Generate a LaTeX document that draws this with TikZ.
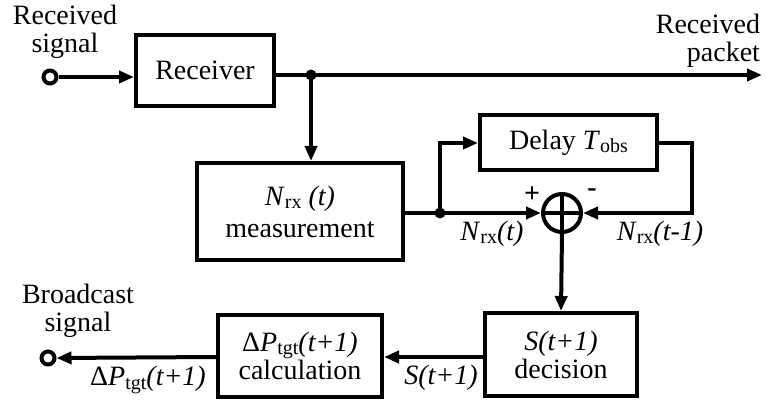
\documentclass[tikz,border=0pt]{standalone}
\usepackage{fontspec}
\setmainfont{Liberation Serif}
\usetikzlibrary{arrows.meta}
\newcommand{\lsub}[1]{\raisebox{-0.25ex}{\fontsize{20}{21}\selectfont #1}}
\begin{document}
\begin{tikzpicture}[x=1pt,y=-1pt,
  font=\fontsize{28}{28}\selectfont,
  line width=4pt,
  arr/.style={-{Triangle[length=15pt,width=12pt]}},
  blk/.style={draw,rectangle,inner sep=0pt,align=center},
  lbl/.style={inner sep=0pt,align=center},
  term/.style={draw,circle,fill=white,minimum size=13pt,inner sep=0pt,line width=4pt},
  dot/.style={circle,fill,minimum size=11pt,inner sep=0pt}]
\useasboundingbox (0,0) rectangle (766,403);
% blocks
\node[blk,minimum width=138pt,minimum height=71pt] (rec) at (205,70.5) {Receiver};
\node[blk,minimum width=206pt,minimum height=97pt] (meas) at (300,211.5)
  {\textit{N}\lsub{rx} \textit{(t)}\\[4pt]measurement};
\node[blk,minimum width=177pt,minimum height=55pt] (delay) at (568.5,143)
  {Delay \textit{T}\lsub{obs}};
\node[blk,minimum width=152pt,minimum height=83pt] (dec) at (561,354.5)
  {\textit{S(t+1)}\\decision};
\node[blk,minimum width=164pt,minimum height=82pt] (calc) at (300,356)
  {Δ\textit{P}\lsub{tgt}\textit{(t+1)}\\calculation};
% adder
\node[draw,circle,minimum size=38pt,inner sep=0pt] (add) at (562,213) {};
\draw (add.north) -- (add.south) (add.west) -- (add.east);
% terminals
\node[term] (in) at (50,77) {};
\node[term] (out) at (48,358) {};
% junctions and free ends
\coordinate (j1) at (311,75);
\coordinate (j2) at (440,213);
\coordinate (pk) at (762,73);
\coordinate (dr) at (692,0);
% connectors
\draw[arr] (in.east) -- (in.east -| rec.west);
\draw[arr] (rec.east |- j1) -- (pk |- j1);
\node[dot] at (j1) {};
\draw[arr] (j1) -- (j1 |- meas.north);
\draw[arr] (meas.east |- j2) -- (add.west);
\node[dot] at (j2) {};
\draw[arr] (j2) |- (delay.west);
\draw[arr] (delay.east) -| (dr |- add) -- (add.east);
\draw[arr] (add.south) -- (dec.north);
\coordinate (b) at (0,357);
\draw[arr] (dec.west |- b) -- (calc.east |- b);
\draw[arr] (calc.west |- b) -- (out.east);
% labels
\node[lbl] (t1) at (65,32) {Received\\signal};
\node[lbl,align=right,anchor=east] (t2) at (762,41) {Received\\packet};
\node[lbl] (t3) at (78,311) {Broadcast\\signal};
\node[lbl] (p) at (532,195) {\textbf{+}};
\node[lbl] (m) at (592,193) {\textbf{-}};
\node[lbl] (l1) at (492,234) {\textit{N}\lsub{rx}\textit{(t)}};
\node[lbl] (l2) at (660,234) {\textit{N}\lsub{rx}\textit{(t-1)}};
\node[lbl] (l3) at (441,378) {\textit{S(t+1)}};
\node[lbl] (l4) at (148,380) {Δ\textit{P}\lsub{tgt}\textit{(t+1)}};
\end{tikzpicture}
\end{document}
